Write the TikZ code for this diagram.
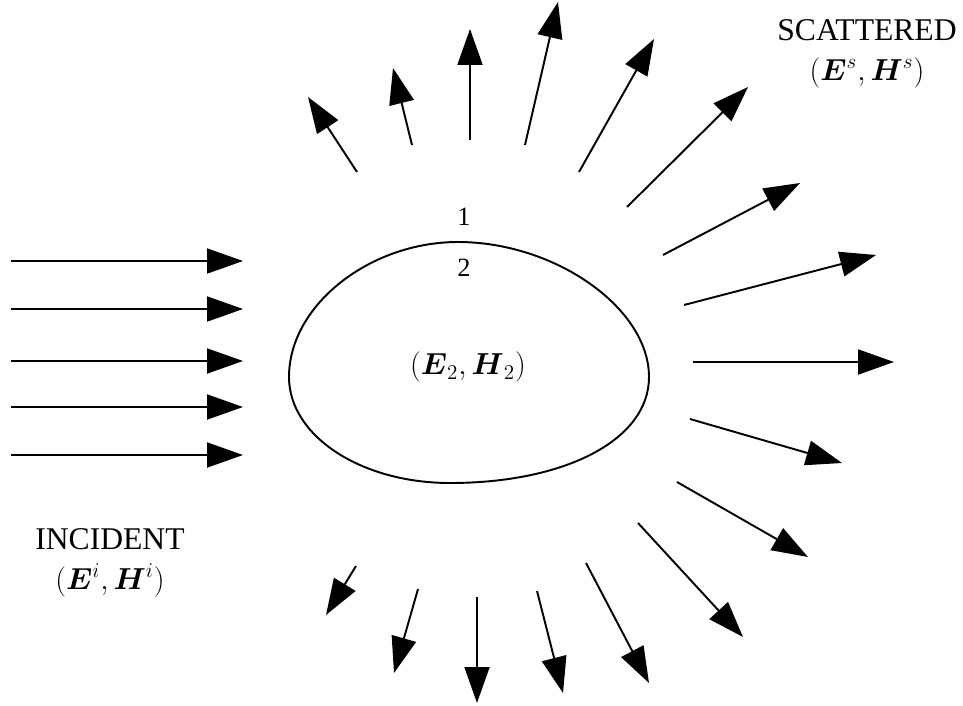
\documentclass[tikz,border=0pt]{standalone}
\usepackage{amsmath}
\usepackage{fontspec}
\setmainfont{Liberation Serif}
\usepackage{tikz}
\usetikzlibrary{arrows.meta, positioning}

\begin{document}
\begin{tikzpicture}[
        x=0.02cm, y=-0.02cm,
        label/.style={align=center, inner sep=0pt, font=\fontsize{18}{20}\selectfont},
        region/.style={inner sep=0pt, font=\fontsize{15}{18}\selectfont},
        arrow/.style={-{Triangle[length=0.72cm, width=0.5cm]}, line width=1.1pt},
        body/.style={line width=1.1pt}
    ]
        \useasboundingbox (0,0) rectangle (963,706);

        % Scatterer
        \draw[body] (458,242) .. controls (555,242) and (649,308) .. (649,377)
            .. controls (649,440) and (565,483) .. (450,483)
            .. controls (361,483) and (289,436) .. (289,377)
            .. controls (289,305) and (370,242) .. (458,242) -- cycle;

        % Nodes
        \node[region] (one) at (464,217) {1};
        \node[region] (two) at (464,268) {2};
        \node[region, font=\fontsize{17}{20}\selectfont] (fields) at (468,367) {$\left(\boldsymbol{E}_2,\boldsymbol{H}_2\right)$};
        \node[label] (scattered) at (867,54) {SCATTERED\\[3pt] $(\boldsymbol{E}^s,\boldsymbol{H}^s)$};
        \node[label] (incident) at (110,563) {INCIDENT\\[3pt] $(\boldsymbol{E}^i,\boldsymbol{H}^i)$};

        % Incident arrows
        \draw[arrow] (11,261) -- (243,261);
        \draw[arrow] (11,309) -- (243,309);
        \draw[arrow] (11,361) -- (243,361);
        \draw[arrow] (11,407) -- (243,407);
        \draw[arrow] (11,455) -- (243,455);

        % Scattered arrows
        \draw[arrow] (357,172) -- (308,97);
        \draw[arrow] (412,145) -- (393,68);
        \draw[arrow] (470,140) -- (470,29);
        \draw[arrow] (525,145) -- (558,2);
        \draw[arrow] (579,172) -- (654,39);
        \draw[arrow] (627,207) -- (748,87);
        \draw[arrow] (663,255) -- (800,183);
        \draw[arrow] (684,305) -- (876,255);
        \draw[arrow] (693,362) -- (894,362);
        \draw[arrow] (690,419) -- (842,463);
        \draw[arrow] (677,482) -- (808,557);
        \draw[arrow] (638,523) -- (743,637);
        \draw[arrow] (586,563) -- (649,683);
        \draw[arrow] (537,591) -- (563,693);
        \draw[arrow] (477,597) -- (477,703);
        \draw[arrow] (418,589) -- (394,673);
        \draw[arrow] (356,566) -- (326,615);
    \end{tikzpicture}
\end{document}
